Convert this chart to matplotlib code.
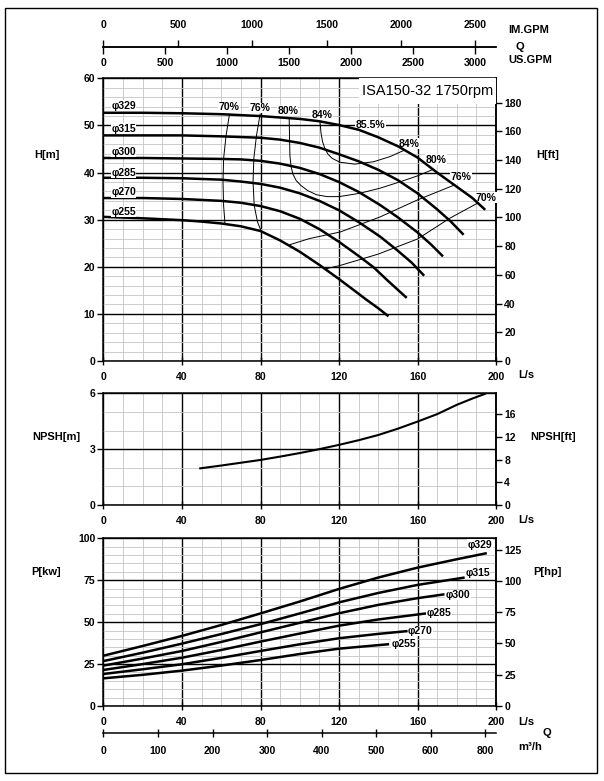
import numpy as np
import matplotlib
matplotlib.use("Agg")
import matplotlib.pyplot as plt
import matplotlib.patches as mpatches

plt.rcParams['font.family'] = ['Liberation Sans', 'DejaVu Sans']
plt.rcParams['font.weight'] = 'bold'
plt.rcParams['font.size'] = 7.5

# --- DATA ---

diameters = ['329', '315', '300', '285', '270', '255']

# head curves H[m] vs Q[L/s]
h_q = {
    '329': [0, 20, 40, 60, 80, 100, 110, 120, 130, 140, 150, 160, 170, 180, 188, 194.5],
    '315': [0, 20, 40, 60, 80, 90, 100, 110, 120, 130, 140, 150, 160, 170, 177, 183.5],
    '300': [0, 20, 40, 60, 70, 80, 90, 100, 110, 120, 130, 141, 150, 160, 167, 173],
    '285': [0, 20, 40, 60, 70, 80, 90, 100, 110, 120, 130, 141, 150, 157, 163.4],
    '270': [0, 20, 40, 60, 70, 80, 90, 100, 110, 120, 130, 137.6, 145, 154.5],
    '255': [0, 20, 40, 50, 60, 70, 80, 90, 100, 110, 120, 128, 134, 140, 145.2],
}
h_h = {
    '329': [52.7, 52.7, 52.6, 52.4, 52.0, 51.4, 50.9, 50.1, 49.1, 47.5, 45.6, 43.2, 40.0, 37.0, 34.6, 32.1],
    '315': [47.9, 47.9, 47.9, 47.7, 47.4, 47.0, 46.3, 45.3, 43.9, 42.4, 40.6, 38.4, 35.6, 32.2, 29.6, 26.8],
    '300': [43.1, 43.1, 43.0, 42.9, 42.8, 42.5, 41.9, 41.0, 39.7, 38.0, 35.9, 33.1, 30.5, 27.3, 24.7, 22.2],
    '285': [38.9, 38.9, 38.8, 38.5, 38.1, 37.6, 36.8, 35.6, 34.0, 32.0, 29.5, 26.4, 23.4, 20.9, 18.1],
    '270': [34.6, 34.6, 34.4, 34.0, 33.6, 32.9, 31.8, 30.2, 28.0, 25.3, 22.3, 19.9, 17.0, 13.4],
    '255': [30.6, 30.3, 29.9, 29.6, 29.2, 28.6, 27.6, 25.6, 23.2, 20.4, 17.4, 14.9, 13.0, 11.2, 9.5],
}

# efficiency iso-lines (Q, H)
eff_70a_q = [64.2, 62.5, 61.2, 60.9, 61.2, 61.9]
eff_70a_h = [52.4, 48, 43, 38, 33, 29.2]
eff_76a_q = [79.8, 78.0, 76.6, 76.2, 76.8, 78.5, 80.3]
eff_76a_h = [52.4, 48, 43, 38, 33, 29.5, 27.6]
eff_80_q = [94.6, 94.8, 95.0, 95.6, 96.6, 98.2, 100.5, 104, 108.5, 114, 120, 130.5, 141, 150.8, 160, 167.5]
eff_80_h = [51.7, 47.5, 43.5, 41.2, 39.6, 38.3, 37.3, 36.2, 35.3, 34.9, 34.9, 35.6, 36.7, 38.0, 39.3, 40.6]
eff_84_q = [110.3, 110.8, 111.6, 112.8, 114.4, 116.6, 120.5, 128, 137.6, 146, 153]
eff_84_h = [50.9, 48.5, 46.6, 45.1, 43.9, 43.0, 42.2, 41.8, 42.3, 43.4, 44.7]
eff_76b_q = [95, 105, 120.7, 141, 160, 179]
eff_76b_h = [24.7, 26.0, 27.4, 30.6, 34.2, 37.4]
eff_70b_q = [112.5, 120.7, 140, 160, 176.4, 191]
eff_70b_h = [19.5, 20.3, 22.7, 25.9, 30.3, 33.6]

# NPSH[m] vs Q
npsh_q = [49.3, 60, 70, 80, 90, 100, 110, 120, 130, 140, 150, 160, 170, 180, 188, 194.4]
npsh_m = [1.97, 2.12, 2.27, 2.42, 2.6, 2.79, 3.0, 3.23, 3.48, 3.76, 4.1, 4.48, 4.88, 5.38, 5.72, 5.97]

# shaft power P[kW] vs Q
p_q = {
    '329': [0, 20, 40, 60, 80, 100, 120, 140, 160, 180, 194.7],
    '315': [0, 20, 40, 60, 80, 100, 120, 140, 160, 183.4],
    '300': [0, 20, 40, 60, 80, 100, 120, 140, 160, 173.1],
    '285': [0, 20, 40, 60, 80, 100, 120, 140, 163.7],
    '270': [0, 20, 40, 60, 80, 100, 120, 140, 154.3],
    '255': [0, 20, 40, 60, 80, 100, 120, 144.9],
}
p_kw = {
    '329': [30.0, 35.8, 41.8, 48.3, 55.2, 62.3, 69.8, 76.6, 82.5, 87.5, 91.0],
    '315': [26.8, 31.8, 37.2, 42.9, 48.8, 55.2, 61.8, 67.4, 72.2, 76.5],
    '300': [24.1, 28.3, 32.8, 38.2, 43.9, 49.6, 55.3, 60.3, 64.3, 66.5],
    '285': [21.5, 25.0, 28.8, 33.4, 38.4, 43.2, 47.9, 51.6, 55.1],
    '270': [19.1, 21.9, 24.9, 28.7, 32.8, 36.8, 40.4, 43.0, 44.6],
    '255': [16.5, 18.6, 21.1, 24.1, 27.4, 31.0, 34.2, 36.8],
}

q_ticks = [0, 40, 80, 120, 160, 200]
h_ticks = [0, 10, 20, 30, 40, 50, 60]
hft_ticks = [0, 20, 40, 60, 80, 100, 120, 140, 160, 180]
npsh_ticks = [0, 3, 6]
npshft_ticks = [0, 4, 8, 12, 16]
p_ticks = [0, 25, 50, 75, 100]
php_ticks = [0, 25, 50, 75, 100, 125]
im_ticks = [0, 500, 1000, 1500, 2000, 2500]
us_ticks = [0, 500, 1000, 1500, 2000, 2500, 3000]
m3h_ticks = [0, 100, 200, 300, 400, 500, 600, 700]
m3h_labels = ['0', '100', '200', '300', '400', '500', '600', '800']

M2FT = 3.28084
KW2HP = 1.34102
IMG = 4.54609 / 60.0
USG = 3.78541 / 60.0

# --- LAYOUT ---
W, H = 604, 781
fig = plt.figure(figsize=(W / 100, H / 100), dpi=100)

def fx(px):
    return px / W

def fy(py):
    return 1 - py / H

X0, X1 = 103.5, 496.0

def chart_axes(top, bottom):
    return fig.add_axes([fx(X0), fy(bottom), fx(X1 - X0), (bottom - top) / H])

def style_grid(ax, yticks, yminor, ymax):
    ax.set_xlim(0, 200)
    ax.set_ylim(0, ymax)
    ax.set_xticks(q_ticks)
    ax.set_xticks(np.arange(0, 201, 10), minor=True)
    ax.set_yticks(yticks)
    ax.set_yticks(np.arange(0, ymax + 0.001, yminor), minor=True)
    ax.grid(which='minor', color='#c4c4c4', lw=0.6)
    ax.grid(which='major', color='black', lw=1.0)
    ax.set_axisbelow(True)
    ax.tick_params(axis='x', which='major', direction='inout', length=6, width=1, pad=5)
    ax.tick_params(axis='y', which='major', direction='out', length=4, width=1, pad=2)
    ax.tick_params(which='minor', length=0)
    for s in ax.spines.values():
        s.set_linewidth(1.1)

def right_axis(ax, f, finv, ticks):
    sec = ax.secondary_yaxis('right', functions=(f, finv))
    sec.set_yticks(ticks)
    sec.tick_params(direction='out', length=4, width=1, pad=2)
    sec.spines['right'].set_linewidth(1.1)
    return sec

bbox_w = dict(facecolor='white', edgecolor='none', pad=0.3)

# ---- H chart ----
axh = chart_axes(78.4, 361)
style_grid(axh, h_ticks, 2, 60)
right_axis(axh, lambda m: m * M2FT, lambda f: f / M2FT, hft_ticks)

for d in diameters:
    axh.plot(h_q[d], h_h[d], color='black', lw=1.8, solid_capstyle='butt', zorder=4)

for qq, hh in [(eff_70a_q, eff_70a_h), (eff_76a_q, eff_76a_h), (eff_80_q, eff_80_h),
               (eff_84_q, eff_84_h), (eff_76b_q, eff_76b_h), (eff_70b_q, eff_70b_h)]:
    axh.plot(qq, hh, color='black', lw=0.7, zorder=4)

eff_labels = [('70%', 64.1, 53.9), ('76%', 79.8, 53.7), ('80%', 93.8, 53.1),
              ('84%', 111.3, 52.2), ('85.5%', 136.0, 50.0), ('84%', 155.7, 46.1),
              ('80%', 169.3, 42.7), ('76%', 182.1, 39.0), ('70%', 194.9, 34.7)]
for t, x, y in eff_labels:
    axh.text(x, y, t, ha='center', va='center', fontsize=7.5, fontweight='bold',
             bbox=bbox_w, zorder=3.5)

for d, y in zip(diameters, [54.2, 49.3, 44.4, 40.0, 35.8, 31.7]):
    axh.text(3.9, y, '\u03c6' + d, ha='left', va='center', fontsize=7.5,
             fontweight='bold', bbox=bbox_w, zorder=5)

axh.add_patch(mpatches.Rectangle((130, 54.5), 70, 5.5, facecolor='white',
                                 edgecolor='none', zorder=3))
axh.text(165, 57.3, 'ISA150-32 1750rpm', ha='center', va='center', fontsize=10.5,
         fontweight='normal', zorder=6)

# ---- NPSH chart ----
axn = chart_axes(393.3, 505)
style_grid(axn, npsh_ticks, 1, 6)
right_axis(axn, lambda m: m * M2FT, lambda f: f / M2FT, npshft_ticks)
axn.plot(npsh_q, npsh_m, color='black', lw=1.5, zorder=4)

# ---- Power chart ----
axp = chart_axes(538.3, 706)
style_grid(axp, p_ticks, 5, 100)
right_axis(axp, lambda k: k * KW2HP, lambda hp: hp / KW2HP, php_ticks)
for d in diameters:
    axp.plot(p_q[d], p_kw[d], color='black', lw=1.8, zorder=4)

p_label_pos = [(185.5, 96.2), (184.4, 79.1), (174.4, 66.2), (164.6, 55.3),
               (155.2, 44.7), (146.8, 36.8)]
for d, (x, y) in zip(diameters, p_label_pos):
    axp.text(x, y, '\u03c6' + d, ha='left', va='center', fontsize=7.5,
             fontweight='bold', bbox=bbox_w, zorder=5)

# ---- top flow scale (IM.GPM / US.GPM) ----
axt = fig.add_axes([fx(X0), fy(46.7), fx(X1 - X0), 0.00001])
axt.set_xlim(0, 200)
axt.set_yticks([])
axt.set_xticks([])
for s in axt.spines.values():
    s.set_visible(False)
sec_im = axt.secondary_xaxis('top', functions=(lambda q: q / IMG, lambda g: g * IMG))
sec_im.set_xticks(im_ticks)
sec_im.tick_params(direction='out', length=5, width=1, pad=7)
sec_im.spines['top'].set_linewidth(1.1)
sec_us = axt.secondary_xaxis('bottom', functions=(lambda q: q / USG, lambda g: g * USG))
sec_us.set_xticks(us_ticks)
sec_us.tick_params(direction='out', length=5, width=1, pad=3)
sec_us.spines['bottom'].set_linewidth(1.1)

# ---- bottom flow scale (m3/h) ----
axb = fig.add_axes([fx(X0), fy(733.3), fx(X1 - X0), 0.00001])
axb.set_xlim(0, 200)
axb.set_yticks([])
axb.set_xticks([])
for s in axb.spines.values():
    s.set_visible(False)
sec_m3 = axb.secondary_xaxis('bottom', functions=(lambda q: q * 3.6, lambda m: m / 3.6))
sec_m3.set_xticks(m3h_ticks)
sec_m3.set_xticklabels(m3h_labels)
sec_m3.tick_params(direction='inout', length=6, width=1, pad=6)
sec_m3.spines['bottom'].set_linewidth(1.1)

# ---- outside labels ----
def ftext(px, py, s, ha='center', size=8):
    fig.text(fx(px), fy(py), s, ha=ha, va='center', fontsize=size, fontweight='bold')

ftext(508, 30, 'IM.GPM', ha='left')
ftext(520, 47, 'Q')
ftext(508, 60, 'US.GPM', ha='left')
ftext(47, 155, 'H[m]')
ftext(548, 155, 'H[ft]')
ftext(518, 375, 'L/s', ha='left')
ftext(56, 437, 'NPSH[m]')
ftext(553, 437, 'NPSH[ft]')
ftext(518, 520, 'L/s', ha='left')
ftext(46.5, 572, 'P[kw]')
ftext(547.5, 572, 'P[hp]')
ftext(518, 721.7, 'L/s', ha='left')
ftext(546.7, 733, 'Q')
ftext(518, 746.7, 'm\u00b3/h', ha='left')

fig.patches.append(mpatches.Rectangle((fx(5), fy(773)), fx(592), (773 - 8) / H,
                                      transform=fig.transFigure, fill=False,
                                      edgecolor='black', lw=1.0))

fig.savefig('out.png', dpi=100)
